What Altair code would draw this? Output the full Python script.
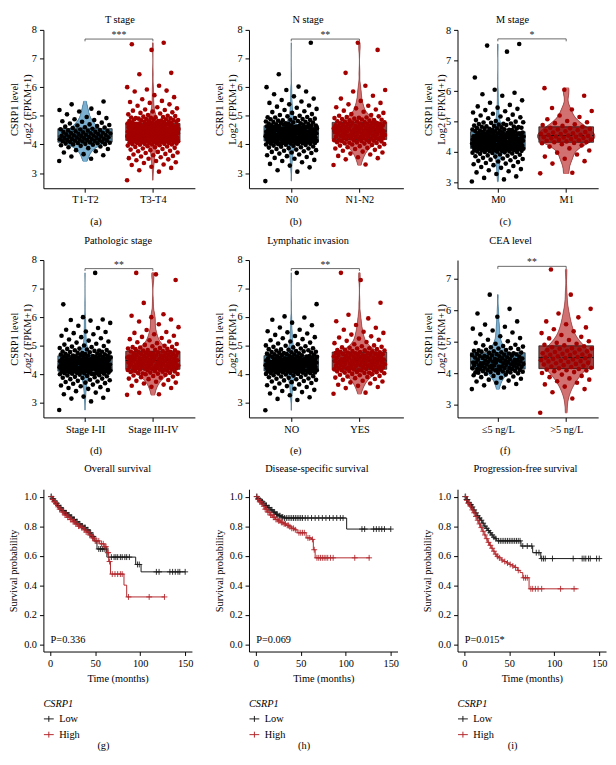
import altair as alt
import pandas as pd

FONT = "Liberation Serif"
FS = 10.5

# ---------------- expression values (log2(FPKM+1) x 100), read from the jittered points ----------------
T12 = [342, 350, 358, 362, 366, 372, 376, 380, 384, 387, 390, 393, 395, 397, 399,
       400, 401, 402, 403, 404, 405, 406, 407, 408, 409,
       410, 411, 412, 413, 414, 415, 415, 416, 417, 418, 419, 419,
       420, 421, 422, 423, 424, 425, 426, 427, 428, 429,
       430, 431, 432, 433, 434, 435, 436, 437, 438, 439,
       440, 441, 442, 443, 444, 446, 447, 448, 449,
       450, 452, 453, 455, 457, 459, 460, 462, 464, 466, 468,
       470, 473, 476, 479, 481, 485, 488, 492, 496,
       505, 510, 515, 520, 525, 540, 550]
T34 = [275, 305, 310, 318, 322, 328, 330, 335, 338, 342, 345, 348, 350, 352, 355, 358, 360, 362, 365, 367,
       370, 372, 374, 376, 378, 380, 382, 384, 386, 388, 390, 391, 393, 394, 396, 397, 399,
       400, 400, 401, 402, 402, 403, 404, 405, 405, 406, 407, 408, 408, 409, 409,
       410, 410, 411, 411, 412, 413, 413, 414, 414, 415, 415, 416, 417, 417, 418, 418, 419, 419,
       420, 420, 421, 421, 422, 422, 423, 423, 424, 424, 425, 425, 426, 426, 427, 427, 428, 428, 429, 429, 429,
       430, 430, 431, 431, 432, 432, 433, 433, 434, 434, 435, 435, 436, 436, 437, 437, 438, 438, 439, 439, 439, 432,
       440, 440, 441, 441, 442, 442, 443, 443, 444, 444, 445, 445, 446, 446, 447, 447, 448, 448, 449, 449, 444, 446,
       450, 450, 451, 451, 452, 452, 453, 453, 454, 454, 455, 455, 456, 456, 457, 457, 458, 458, 459, 459, 455,
       460, 460, 461, 462, 462, 463, 464, 464, 465, 466, 466, 467, 468, 468, 469, 469, 465, 463,
       470, 471, 471, 472, 473, 474, 474, 475, 476, 477, 478, 478, 479, 476, 472,
       480, 481, 482, 483, 484, 485, 486, 487, 488, 489, 485, 482,
       490, 491, 493, 494, 496, 497, 499, 495, 492,
       500, 503, 505, 508, 510, 512, 515, 518, 520, 522, 526, 530, 535, 540, 545, 548,
       552, 558, 565, 572, 585, 588, 592, 600, 605, 645, 650, 730, 750, 755]
N0 = [272, 305, 310, 320, 326, 332, 338, 342, 346, 350, 353, 356, 359, 362, 365, 368, 370, 372, 374, 376,
      378, 380, 382, 384, 386, 387, 389, 390, 392, 393, 395, 396, 398, 399,
      400, 401, 401, 402, 403, 403, 404, 405, 405, 406, 407, 407, 408, 409, 409, 404,
      410, 410, 411, 411, 412, 412, 413, 413, 414, 414, 415, 415, 416, 416, 417, 417, 418, 418, 419, 419,
      420, 420, 421, 421, 422, 422, 423, 423, 424, 424, 425, 425, 426, 426, 427, 427, 428, 428, 429, 429, 424, 426,
      430, 430, 431, 431, 432, 432, 433, 433, 434, 434, 435, 435, 436, 436, 437, 437, 438, 438, 439, 439, 433, 436,
      440, 440, 441, 441, 442, 442, 443, 443, 444, 444, 445, 445, 446, 446, 447, 447, 448, 448, 449, 449, 445,
      450, 450, 451, 452, 452, 453, 454, 454, 455, 456, 456, 457, 458, 458, 459, 459, 455, 453,
      460, 461, 461, 462, 463, 464, 464, 465, 466, 467, 468, 469, 466, 462,
      470, 471, 472, 473, 474, 475, 476, 477, 478, 479, 474,
      480, 482, 483, 485, 486, 488, 489, 484, 490, 492, 494, 496, 498, 495,
      500, 503, 506, 510, 513, 516, 520, 524, 528, 532, 536, 540, 545, 550,
      555, 560, 568, 575, 585, 590, 600, 602, 645, 755]
N12 = [328, 330, 348, 352, 355, 360, 365, 368, 372, 375, 378, 381, 384, 386, 388, 390, 392, 394, 396, 398,
       400, 401, 403, 404, 405, 407, 408, 409, 406,
       410, 411, 412, 413, 414, 415, 416, 417, 418, 419, 414,
       420, 421, 422, 423, 424, 425, 426, 427, 428, 429, 423, 426,
       430, 431, 432, 433, 434, 435, 436, 437, 438, 439, 432, 435, 437,
       440, 441, 442, 443, 444, 445, 446, 447, 448, 449, 443, 446, 448,
       450, 451, 452, 453, 454, 455, 456, 457, 458, 459, 452, 456, 458,
       460, 461, 462, 463, 464, 465, 466, 467, 468, 469, 464, 467,
       470, 471, 472, 473, 474, 475, 476, 477, 478, 479, 475,
       480, 481, 483, 484, 486, 487, 489, 485, 490, 492, 494, 496, 498, 493,
       500, 503, 506, 510, 514, 518, 522, 526, 530, 535, 540, 545,
       552, 560, 570, 585, 590, 605, 650, 730, 755]
M0 = [303, 310, 315, 320, 328, 333, 337, 340, 344, 348, 351, 354, 357, 360, 362, 364, 367, 369, 371, 373,
      375, 377, 379, 381, 383, 385, 386, 388, 389, 391, 392, 394, 395, 397, 398, 399,
      400, 400, 401, 402, 402, 403, 404, 404, 405, 406, 406, 407, 408, 408, 409, 409,
      410, 410, 411, 411, 412, 412, 413, 413, 414, 414, 415, 415, 416, 416, 417, 417, 418, 418, 419, 419, 415,
      420, 420, 421, 421, 422, 422, 423, 423, 424, 424, 425, 425, 426, 426, 427, 427, 428, 428, 429, 429, 423, 427, 425,
      430, 430, 431, 431, 432, 432, 433, 433, 434, 434, 435, 435, 436, 436, 437, 437, 438, 438, 439, 439, 432, 436, 434,
      440, 440, 441, 441, 442, 442, 443, 443, 444, 444, 445, 445, 446, 446, 447, 447, 448, 448, 449, 449, 444, 447,
      450, 450, 451, 451, 452, 453, 453, 454, 455, 455, 456, 457, 457, 458, 459, 459, 452, 456,
      460, 460, 461, 462, 463, 464, 464, 465, 466, 467, 468, 469, 463, 466, 461,
      470, 471, 472, 473, 474, 475, 476, 477, 478, 479, 473, 476,
      480, 481, 483, 484, 486, 487, 489, 485, 482, 490, 492, 494, 496, 498, 493, 497,
      500, 502, 505, 508, 511, 514, 517, 520, 523, 526, 530, 534, 538, 542, 546, 550,
      555, 562, 570, 585, 590, 595, 605, 645, 730, 750, 755]
M1 = [330, 332, 362, 370, 378, 385, 392, 398, 405, 412, 418, 422, 426, 429,
      430, 432, 433, 435, 437, 439, 440, 441, 443, 445, 446, 448, 449,
      450, 451, 453, 454, 456, 457, 459, 460, 462, 464, 466, 468,
      470, 472, 474, 476, 478, 480, 483, 486, 489, 491, 495, 498,
      502, 508, 515, 520, 535, 540, 545, 585, 605, 610]
S12 = [275, 305, 315, 318, 322, 330, 336, 341, 345, 349, 352, 355, 358, 361, 364, 367, 369, 371, 373, 375,
       377, 379, 381, 383, 385, 387, 388, 390, 391, 393, 394, 396, 397, 399,
       400, 401, 402, 402, 403, 404, 404, 405, 406, 406, 407, 408, 409, 409, 401,
       410, 410, 411, 411, 412, 412, 413, 414, 414, 415, 415, 416, 417, 417, 418, 418, 419, 419, 413,
       420, 420, 421, 421, 422, 422, 423, 423, 424, 424, 425, 425, 426, 426, 427, 427, 428, 428, 429, 429, 422, 425,
       430, 430, 431, 431, 432, 432, 433, 433, 434, 434, 435, 435, 436, 436, 437, 437, 438, 438, 439, 439, 434,
       440, 440, 441, 441, 442, 442, 443, 443, 444, 444, 445, 445, 446, 446, 447, 447, 448, 448, 449, 449,
       450, 450, 451, 452, 452, 453, 454, 455, 455, 456, 457, 458, 458, 459, 453, 456,
       460, 461, 462, 462, 463, 464, 465, 466, 467, 468, 469, 464, 466,
       470, 471, 472, 473, 475, 476, 477, 478, 479, 474, 480, 482, 484, 485, 487, 489, 483,
       490, 492, 495, 497, 499,
       501, 504, 507, 511, 515, 518, 522, 526, 530, 535, 540, 544, 548, 550,
       556, 562, 570, 580, 588, 590, 592, 600, 645, 755]
S34 = [328, 330, 335, 352, 356, 360, 364, 368, 371, 374, 377, 380, 383, 385, 388, 390, 392, 394, 396, 398,
       400, 401, 402, 404, 405, 406, 408, 409, 403,
       410, 411, 412, 413, 414, 415, 416, 417, 418, 419, 412, 416,
       420, 421, 422, 423, 424, 425, 426, 427, 428, 429, 422, 425, 428,
       430, 431, 432, 433, 434, 435, 436, 437, 438, 439, 431, 434, 437,
       440, 441, 442, 443, 444, 445, 446, 447, 448, 449, 442, 445, 448,
       450, 451, 452, 453, 454, 455, 456, 457, 458, 459, 453, 456,
       460, 461, 462, 463, 464, 465, 466, 467, 468, 469, 462, 466,
       470, 471, 472, 473, 474, 475, 476, 477, 478, 479, 474,
       480, 481, 483, 484, 486, 488, 489, 485, 490, 492, 494, 496, 498, 495,
       500, 503, 506, 509, 512, 515, 519, 523, 527, 531, 535, 540, 545, 548,
       555, 565, 575, 585, 592, 600, 605, 610, 650, 730, 750, 755]
LYM_NO = [272, 308, 312, 318, 325, 331, 336, 340, 344, 348, 351, 354, 357, 360, 363, 366, 368, 371, 373, 375,
          377, 379, 381, 383, 384, 386, 388, 389, 391, 392, 394, 395, 397, 398,
          400, 400, 401, 402, 403, 403, 404, 405, 405, 406, 407, 408, 408, 409, 409,
          410, 410, 411, 411, 412, 413, 413, 414, 414, 415, 416, 416, 417, 417, 418, 419, 419, 412, 415,
          420, 420, 421, 421, 422, 422, 423, 423, 424, 424, 425, 425, 426, 426, 427, 427, 428, 428, 429, 429, 423,
          430, 430, 431, 431, 432, 432, 433, 433, 434, 434, 435, 435, 436, 436, 437, 437, 438, 438, 439, 439, 435,
          440, 440, 441, 441, 442, 443, 443, 444, 444, 445, 446, 446, 447, 447, 448, 448, 449, 449, 442,
          450, 450, 451, 452, 453, 453, 454, 455, 456, 456, 457, 458, 459, 452, 455,
          460, 461, 462, 463, 463, 464, 465, 466, 467, 468, 469, 461,
          470, 471, 472, 474, 475, 476, 477, 479, 473, 478, 480, 482, 483, 485, 487, 489, 486,
          490, 493, 495, 497, 499,
          500, 504, 507, 510, 514, 518, 522, 525, 529, 533, 537, 542, 546, 550,
          555, 563, 571, 580, 590, 598, 602, 645, 755]
LYM_YES = [330, 334, 350, 354, 358, 362, 366, 370, 373, 376, 379, 382, 385, 387, 389, 391, 393, 395, 397, 399,
           400, 402, 403, 405, 406, 407, 409, 404,
           410, 411, 412, 413, 414, 415, 416, 417, 418, 419, 413,
           420, 421, 422, 423, 424, 425, 426, 427, 428, 429, 422, 427,
           430, 431, 432, 433, 434, 435, 436, 437, 438, 439, 433, 436,
           440, 441, 442, 443, 444, 445, 446, 447, 448, 449, 441, 445, 447,
           450, 451, 452, 453, 454, 455, 456, 457, 458, 459, 451, 457,
           460, 461, 462, 463, 464, 465, 466, 467, 468, 469, 465,
           470, 471, 472, 473, 474, 475, 476, 477, 478, 479,
           480, 482, 483, 485, 487, 489, 484, 490, 492, 495, 497, 493,
           500, 504, 508, 512, 516, 520, 524, 528, 532, 538, 544, 548,
           555, 562, 572, 585, 595, 608, 650, 730, 755]
CEA_LO = [350, 355, 362, 366, 370, 374, 377, 380, 383, 386, 388, 390, 392, 394, 396, 398,
          400, 401, 402, 403, 404, 405, 406, 407, 408, 409, 403, 406,
          410, 411, 412, 413, 414, 415, 416, 417, 418, 419, 411, 414, 417,
          420, 421, 422, 423, 424, 425, 426, 427, 428, 429, 422, 425, 428, 424,
          430, 431, 432, 433, 434, 435, 436, 437, 438, 439, 432, 435, 437, 434,
          440, 441, 442, 443, 444, 445, 446, 447, 448, 449, 443, 446,
          450, 451, 452, 453, 454, 455, 456, 457, 458, 459, 455,
          460, 461, 462, 463, 465, 466, 467, 469, 464, 470, 472, 474, 475, 477, 479, 473,
          480, 483, 485, 487, 489, 491, 494, 497,
          502, 507, 512, 518, 524, 530, 536, 542, 548, 555, 565, 580, 590, 605, 650]
CEA_HI = [275, 320, 340, 350, 358, 365, 370, 375, 380, 384, 388, 392, 396,
          401, 404, 407, 409, 410, 412, 414, 416, 418, 420, 422, 424, 426, 428,
          430, 432, 434, 436, 438, 439, 440, 442, 444, 446, 448, 449,
          450, 452, 454, 456, 458, 459, 460, 462, 464, 466, 468,
          470, 472, 474, 476, 478, 479, 480, 483, 486, 489, 491, 494, 497,
          502, 506, 511, 516, 522, 528, 534, 540, 546, 556, 565, 578, 590, 605, 650, 730]

VIOLIN_TITLES = ["T stage", "N stage", "M stage", "Pathologic stage", "Lymphatic invasion", "CEA level"]
VIOLIN_CATS = [["T1-T2", "T3-T4"], ["N0", "N1-N2"], ["M0", "M1"],
               ["Stage I-II", "Stage III-IV"], ["NO", "YES"], ["≤5 ng/L", ">5 ng/L"]]
VIOLIN_VALUES = [[T12, T34], [N0, N12], [M0, M1], [S12, S34], [LYM_NO, LYM_YES], [CEA_LO, CEA_HI]]
SIG_LABELS = ["***", "**", "*", "**", "**", "**"]
VIOLIN_CAPTIONS = ["(a)", "(b)", "(c)", "(d)", "(e)", "(f)"]

# ---------------- Kaplan-Meier curves (months, survival probability) ----------------
OS_LOW_T = [0, 2, 4, 6, 8, 10, 13, 16, 19, 22, 25, 28, 31, 34, 37, 40, 43, 46, 49, 52, 63, 95, 101]
OS_LOW_S = [1.0, 0.985, 0.97, 0.955, 0.94, 0.925, 0.905, 0.89, 0.875, 0.86, 0.845, 0.83, 0.815, 0.80,
            0.79, 0.775, 0.755, 0.73, 0.70, 0.645, 0.59, 0.54, 0.49]
OS_LOW_CENS = [1, 2.5, 3.5, 5, 6.5, 7.5, 9, 11, 12, 14, 15, 17, 18, 20, 21, 23, 24, 26, 27, 29, 30, 32, 33,
               35, 36, 38, 39, 41, 42, 44, 45, 47, 48, 51, 54, 56, 58, 60, 62, 68, 71, 73, 75, 78, 80, 83,
               85, 88, 97, 99, 118, 121, 133, 136, 139, 142, 144, 150]
OS_LOW_END = 150
OS_HIGH_T = [0, 2, 4, 6, 8, 10, 13, 16, 19, 22, 25, 28, 31, 34, 37, 40, 43, 46, 49, 55, 60, 63, 65, 67, 82, 85]
OS_HIGH_S = [1.0, 0.98, 0.965, 0.95, 0.93, 0.915, 0.895, 0.875, 0.86, 0.845, 0.83, 0.815, 0.80, 0.79,
             0.775, 0.76, 0.74, 0.72, 0.70, 0.68, 0.66, 0.62, 0.56, 0.475, 0.40, 0.32]
OS_HIGH_CENS = [1.5, 3, 4.5, 5.5, 7, 9, 10.5, 12, 13.5, 15, 16.5, 18, 19.5, 21, 22.5, 24, 25.5, 27, 28.5,
                30, 31.5, 33, 35, 36.5, 38, 40, 42, 44, 45.5, 47, 48.5, 50, 52, 54, 57, 59, 61, 62, 64,
                64.5, 66, 69, 72, 75, 78, 80, 87, 110, 127]
OS_HIGH_END = 127

DSS_LOW_T = [0, 2, 4, 6, 8, 10, 13, 16, 19, 22, 25, 28, 31, 101]
DSS_LOW_S = [1.0, 0.985, 0.975, 0.965, 0.955, 0.94, 0.925, 0.91, 0.895, 0.88, 0.87, 0.862, 0.855, 0.78]
DSS_LOW_CENS = [1, 2.5, 3.5, 5, 6.5, 7.5, 9, 11, 12, 14, 15, 17, 18, 20, 21, 23, 24, 26, 27, 29, 30, 32,
                34, 36, 38, 40, 42, 44, 46, 48, 50, 52, 55, 58, 62, 66, 70, 74, 78, 82, 86, 90, 94, 97,
                118, 121, 131, 134, 137, 140, 143, 150]
DSS_LOW_END = 150
DSS_HIGH_T = [0, 2, 4, 6, 8, 10, 13, 16, 19, 22, 25, 28, 31, 34, 37, 40, 43, 46, 56, 62, 64, 66]
DSS_HIGH_S = [1.0, 0.98, 0.965, 0.95, 0.935, 0.915, 0.895, 0.875, 0.86, 0.845, 0.835, 0.825, 0.815,
              0.805, 0.795, 0.785, 0.775, 0.755, 0.72, 0.71, 0.64, 0.585]
DSS_HIGH_CENS = [1.5, 3, 4.5, 5.5, 7, 9, 10.5, 12, 13.5, 15, 16.5, 18, 19.5, 21, 22.5, 24, 25.5, 27, 28.5,
                 30, 31.5, 33, 35, 36.5, 38, 40, 42, 44, 48, 50, 52, 54, 58, 60, 63, 65, 68, 70, 72, 74,
                 76, 78, 80, 83, 86, 110, 126]
DSS_HIGH_END = 127

PFS_LOW_T = [0, 2, 4, 6, 8, 10, 12, 14, 16, 18, 20, 22, 24, 26, 28, 30, 32, 34, 36, 63, 76, 85]
PFS_LOW_S = [1.0, 0.98, 0.96, 0.945, 0.93, 0.91, 0.89, 0.87, 0.855, 0.84, 0.82, 0.80, 0.785, 0.77,
             0.755, 0.74, 0.725, 0.715, 0.70, 0.665, 0.62, 0.58]
PFS_LOW_CENS = [1, 2.5, 3.5, 5, 6.5, 7.5, 9, 11, 13, 15, 17, 19, 21, 23, 25, 27, 29, 31, 33, 35, 38, 40,
                42, 44, 46, 48, 50, 52, 54, 56, 58, 60, 62, 65, 70, 75, 80, 83, 86, 88, 90, 98, 121, 131,
                133, 135, 138, 140, 147, 150]
PFS_LOW_END = 150
PFS_HIGH_T = [0, 2, 4, 6, 8, 10, 12, 14, 16, 18, 20, 22, 24, 26, 28, 30, 32, 34, 36, 38, 41, 44, 47, 50,
              53, 56, 59, 62, 65, 72]
PFS_HIGH_S = [1.0, 0.975, 0.955, 0.935, 0.91, 0.89, 0.865, 0.84, 0.815, 0.79, 0.765, 0.74, 0.715, 0.69,
              0.67, 0.65, 0.63, 0.61, 0.595, 0.585, 0.57, 0.56, 0.55, 0.54, 0.53, 0.52, 0.50, 0.485,
              0.45, 0.375]
PFS_HIGH_CENS = [1.5, 3, 4.5, 5.5, 7, 9, 11, 13, 15, 17, 19, 21, 23, 25, 27, 29, 31, 33, 35, 37, 39, 42,
                 45, 48, 51, 54, 57, 60, 66, 68, 70, 74, 76, 79, 82, 86, 107, 122]
PFS_HIGH_END = 127

KM_TITLES = ["Overall survival", "Disease-specific survival", "Progression-free survival"]
KM_PVALUES = ["P=0.336", "P=0.069", "P=0.015*"]
KM_CAPTIONS = ["(g)", "(h)", "(i)"]
KM_GROUPS = ["Low", "High"]
KM_CURVES = [
    [(OS_LOW_T, OS_LOW_S, OS_LOW_CENS, OS_LOW_END), (OS_HIGH_T, OS_HIGH_S, OS_HIGH_CENS, OS_HIGH_END)],
    [(DSS_LOW_T, DSS_LOW_S, DSS_LOW_CENS, DSS_LOW_END), (DSS_HIGH_T, DSS_HIGH_S, DSS_HIGH_CENS, DSS_HIGH_END)],
    [(PFS_LOW_T, PFS_LOW_S, PFS_LOW_CENS, PFS_LOW_END), (PFS_HIGH_T, PFS_HIGH_S, PFS_HIGH_CENS, PFS_HIGH_END)],
]

# ---------------- styles / layout ----------------
GROUP_COLORS = {
    1: {"box": "#2D6B8C", "violin": "#7DB0D0", "edge": "#2A5670", "point": "#000000"},
    2: {"box": "#8C1414", "violin": "#D27272", "edge": "#6E1A1A", "point": "#A30000"},
}
KM_COLORS = ["#1A1A1A", "#B3282D"]
VIOLIN_HALF = [[0.33, 0.14], [0.13, 0.36], [0.13, 0.42], [0.13, 0.36], [0.13, 0.36], [0.22, 0.36]]
X_DOMAINS = [[0.387, 2.619], [0.38, 2.645], [0.41, 2.468]]
Y_DOMAINS = [[2.47, 8.0], [2.47, 8.0], [2.81, 8.016], [2.49, 8.0], [2.47, 8.0], [2.6, 7.6]]
Y_TICKS = [[3, 4, 5, 6, 7, 8]] * 5 + [[3, 4, 5, 6, 7]]
BRACKET_Y = [7.68, 7.68, 7.72, 7.70, 7.70, 7.40]
PANEL_W = [154, 157, 143]
ROW_H = [161, 160]
TITLE_X = [77.7, 60, 56, 76, 60, 54]
ROW_TITLE_Y = [-10.25, -19.5]
CAP_X = [53, 47, 48]
KM_W, KM_H = 151, 165
KM_TITLE_X = [75.5, 69, 69]
KM_TITLE_Y = -20.5
KM_CAP_X = [61, 56, 56]
PLUS = "M-1,0H1M0,-1V1"
LEG_PLUS = "M-1,0H1M0,-0.6V0.6"


def title_text(text, x, y):
    return alt.Chart(pd.DataFrame({"lab": [text]})).mark_text(
        align="center", baseline="middle", font=FONT, fontSize=FS, color="black"
    ).encode(x=alt.value(x), y=alt.value(y), text="lab:N")


def violin_panel(k):
    col, row = k % 3, k // 3
    recs = []
    for g, vals in enumerate(VIOLIN_VALUES[k], start=1):
        for i, v in enumerate(vals):
            recs.append({"g": g, "v": v / 100.0, "i": i, "hw": VIOLIN_HALF[k][g - 1],
                         "pc": GROUP_COLORS[g]["point"]})
    df = pd.DataFrame(recs)
    cats = VIOLIN_CATS[k]
    xs = alt.Scale(domain=X_DOMAINS[col], nice=False, zero=False)
    ys = alt.Scale(domain=Y_DOMAINS[k], nice=False, zero=False)
    xaxis = alt.Axis(values=[1, 2], labelExpr=f"datum.value == 1 ? '{cats[0]}' : '{cats[1]}'",
                     title=VIOLIN_CAPTIONS[k], titleX=CAP_X[col], titleY=34, titleBaseline="middle",
                     titleAlign="center", grid=False, tickSize=4, labelPadding=3)
    yaxis = alt.Axis(values=Y_TICKS[k], title=["CSRP1 level", "Log2 (FPKM+1)"], grid=False,
                     tickSize=4, labelPadding=3, titlePadding=-1, titleLineHeight=13.5)

    def X(f):
        return alt.X(f, type="quantitative", scale=xs, axis=xaxis, stack=None)

    def Y(f):
        return alt.Y(f, type="quantitative", scale=ys, axis=yaxis, stack=None)

    base = alt.Chart(df)
    layers = []
    for g in (1, 2):
        c = GROUP_COLORS[g]
        dens = base.transform_filter(f"datum.g == {g}").transform_joinaggregate(
            vmin="min(v)", vmax="max(v)"
        ).transform_density(
            "v", as_=["v", "dens"], groupby=["g", "vmin", "vmax", "hw"], steps=320
        ).transform_filter(
            "datum.v >= datum.vmin && datum.v <= datum.vmax"
        ).transform_joinaggregate(
            dmax="max(dens)"
        ).transform_calculate(
            xl="datum.g - datum.hw * datum.dens / datum.dmax",
            xr="datum.g + datum.hw * datum.dens / datum.dmax",
        )
        layers.append(dens.mark_rule(color=c["violin"], strokeWidth=1.3).encode(
            y=Y("v"), x=X("xl"), x2=alt.X2("xr")))
        layers.append(dens.mark_line(color=c["edge"], strokeWidth=0.5).encode(
            y=Y("v"), x=X("xl"), order="v:Q"))
        layers.append(dens.mark_line(color=c["edge"], strokeWidth=0.5).encode(
            y=Y("v"), x=X("xr"), order="v:Q"))
    for g in (1, 2):
        c = GROUP_COLORS[g]
        box = base.transform_filter(f"datum.g == {g}").transform_aggregate(
            q1="q1(v)", q3="q3(v)", groupby=["g"]
        ).transform_calculate(xa="datum.g - 0.4", xb="datum.g + 0.4").mark_rect(
            fill=c["box"], fillOpacity=0.82, stroke="#111111", strokeWidth=0.7
        ).encode(x=X("xa"), x2=alt.X2("xb"), y=Y("q1"), y2=alt.Y2("q3"))
        layers.append(box)

    med = base.transform_aggregate(
        med="median(v)", groupby=["g"]
    ).transform_calculate(xa="datum.g - 0.4", xb="datum.g + 0.4").mark_rule(
        strokeDash=[4, 2], color="#111111", strokeWidth=1
    ).encode(x=X("xa"), x2=alt.X2("xb"), y=Y("med"))

    pts = base.transform_calculate(
        jx="datum.g + ((datum.i * 0.6180339887) % 1 - 0.5) * 0.76"
    ).mark_circle(size=22, opacity=1).encode(
        x=X("jx"), y=Y("v"), color=alt.Color("pc:N", scale=None))

    by = BRACKET_Y[k]
    br_df = pd.DataFrame({"xa": [1, 1, 2], "xb": [1, 2, 2],
                          "ya": [by - 0.08, by, by - 0.08], "yb": [by, by, by]})
    br = alt.Chart(br_df).mark_rule(color="#444444", strokeWidth=0.8).encode(
        x=X("xa"), x2=alt.X2("xb"), y=Y("ya"), y2=alt.Y2("yb"))
    sig = alt.Chart(pd.DataFrame({"xa": [1.5], "ya": [by + 0.03], "t": [SIG_LABELS[k]]})).mark_text(
        baseline="alphabetic", fontSize=10, font=FONT, color="#222222"
    ).encode(x=X("xa"), y=Y("ya"), text="t:N")

    layers += [med, pts, br, sig, title_text(VIOLIN_TITLES[k], TITLE_X[k], ROW_TITLE_Y[row])]
    return alt.layer(*layers).properties(width=PANEL_W[col], height=ROW_H[row])


def km_panel(j):
    line_recs, cens_recs = [], []
    for grp, (T, S, C, E) in zip(KM_GROUPS, KM_CURVES[j]):
        for t, s in zip(T, S):
            line_recs.append({"grp": grp, "t": t, "s": s})
        line_recs.append({"grp": grp, "t": E, "s": S[-1]})
        for c in C:
            idx = max(n for n, t in enumerate(T) if t <= c)
            cens_recs.append({"grp": grp, "t": c, "s": S[idx]})
    xs = alt.Scale(domain=[-7.5, 157.5], nice=False, zero=False)
    ys = alt.Scale(domain=[-0.05, 1.05], nice=False, zero=False)
    xaxis = alt.Axis(values=[0, 50, 100, 150], title="Time (months)", grid=False, tickSize=4,
                     labelPadding=3, titlePadding=5)
    yaxis = alt.Axis(values=[0, 0.2, 0.4, 0.6, 0.8, 1.0], format=".1f", title="Survival probability",
                     grid=False, tickSize=4, labelPadding=3, titlePadding=5)
    legend = alt.Legend(orient="none", legendX=0, legendY=213, title="CSRP1", titleFontStyle="italic",
                        titleFont=FONT, titleFontSize=FS, titleFontWeight="normal", labelFont=FONT,
                        labelFontSize=FS, symbolType=LEG_PLUS, symbolSize=100, symbolStrokeWidth=1,
                        titlePadding=4.5, rowPadding=5, labelOffset=5, padding=0)
    color = alt.Color("grp:N", scale=alt.Scale(domain=KM_GROUPS, range=KM_COLORS), legend=legend)

    def X(f):
        return alt.X(f, type="quantitative", scale=xs, axis=xaxis)

    def Y(f):
        return alt.Y(f, type="quantitative", scale=ys, axis=yaxis)

    line = alt.Chart(pd.DataFrame(line_recs)).mark_line(interpolate="step-after", strokeWidth=1).encode(
        x=X("t"), y=Y("s"), color=color, detail="grp:N")
    cens = alt.Chart(pd.DataFrame(cens_recs)).mark_point(
        shape=PLUS, size=36, strokeWidth=0.9, filled=False, opacity=1).encode(
        x=X("t"), y=Y("s"), color=color)
    ptxt = alt.Chart(pd.DataFrame({"t": [0.5], "s": [0.025], "lab": [KM_PVALUES[j]]})).mark_text(
        align="left", baseline="middle", font=FONT, fontSize=FS, color="black").encode(
        x=X("t"), y=Y("s"), text="lab:N")
    cap = title_text(KM_CAPTIONS[j], KM_CAP_X[j], 261)
    ttl = title_text(KM_TITLES[j], KM_TITLE_X[j], KM_TITLE_Y)
    return alt.layer(line, cens, ptxt, cap, ttl).properties(width=KM_W, height=KM_H)


panels = [violin_panel(k) for k in range(6)] + [km_panel(j) for j in range(3)]
chart = alt.concat(
    *panels, columns=3, spacing={"row": 73, "column": 55}, bounds="flush", align="none"
).resolve_scale(color="independent").resolve_legend(color="independent").properties(
    padding={"left": 0, "top": 0, "right": 0, "bottom": 0}
).configure_view(stroke=None).configure_axis(
    labelFont=FONT, titleFont=FONT, labelFontSize=FS, titleFontSize=FS, labelColor="black",
    titleColor="black", domainColor="black", tickColor="black", domainWidth=1, tickWidth=1,
    titleFontWeight="normal"
)

chart.save("out.html", embed_options={"renderer": "svg", "actions": False})
